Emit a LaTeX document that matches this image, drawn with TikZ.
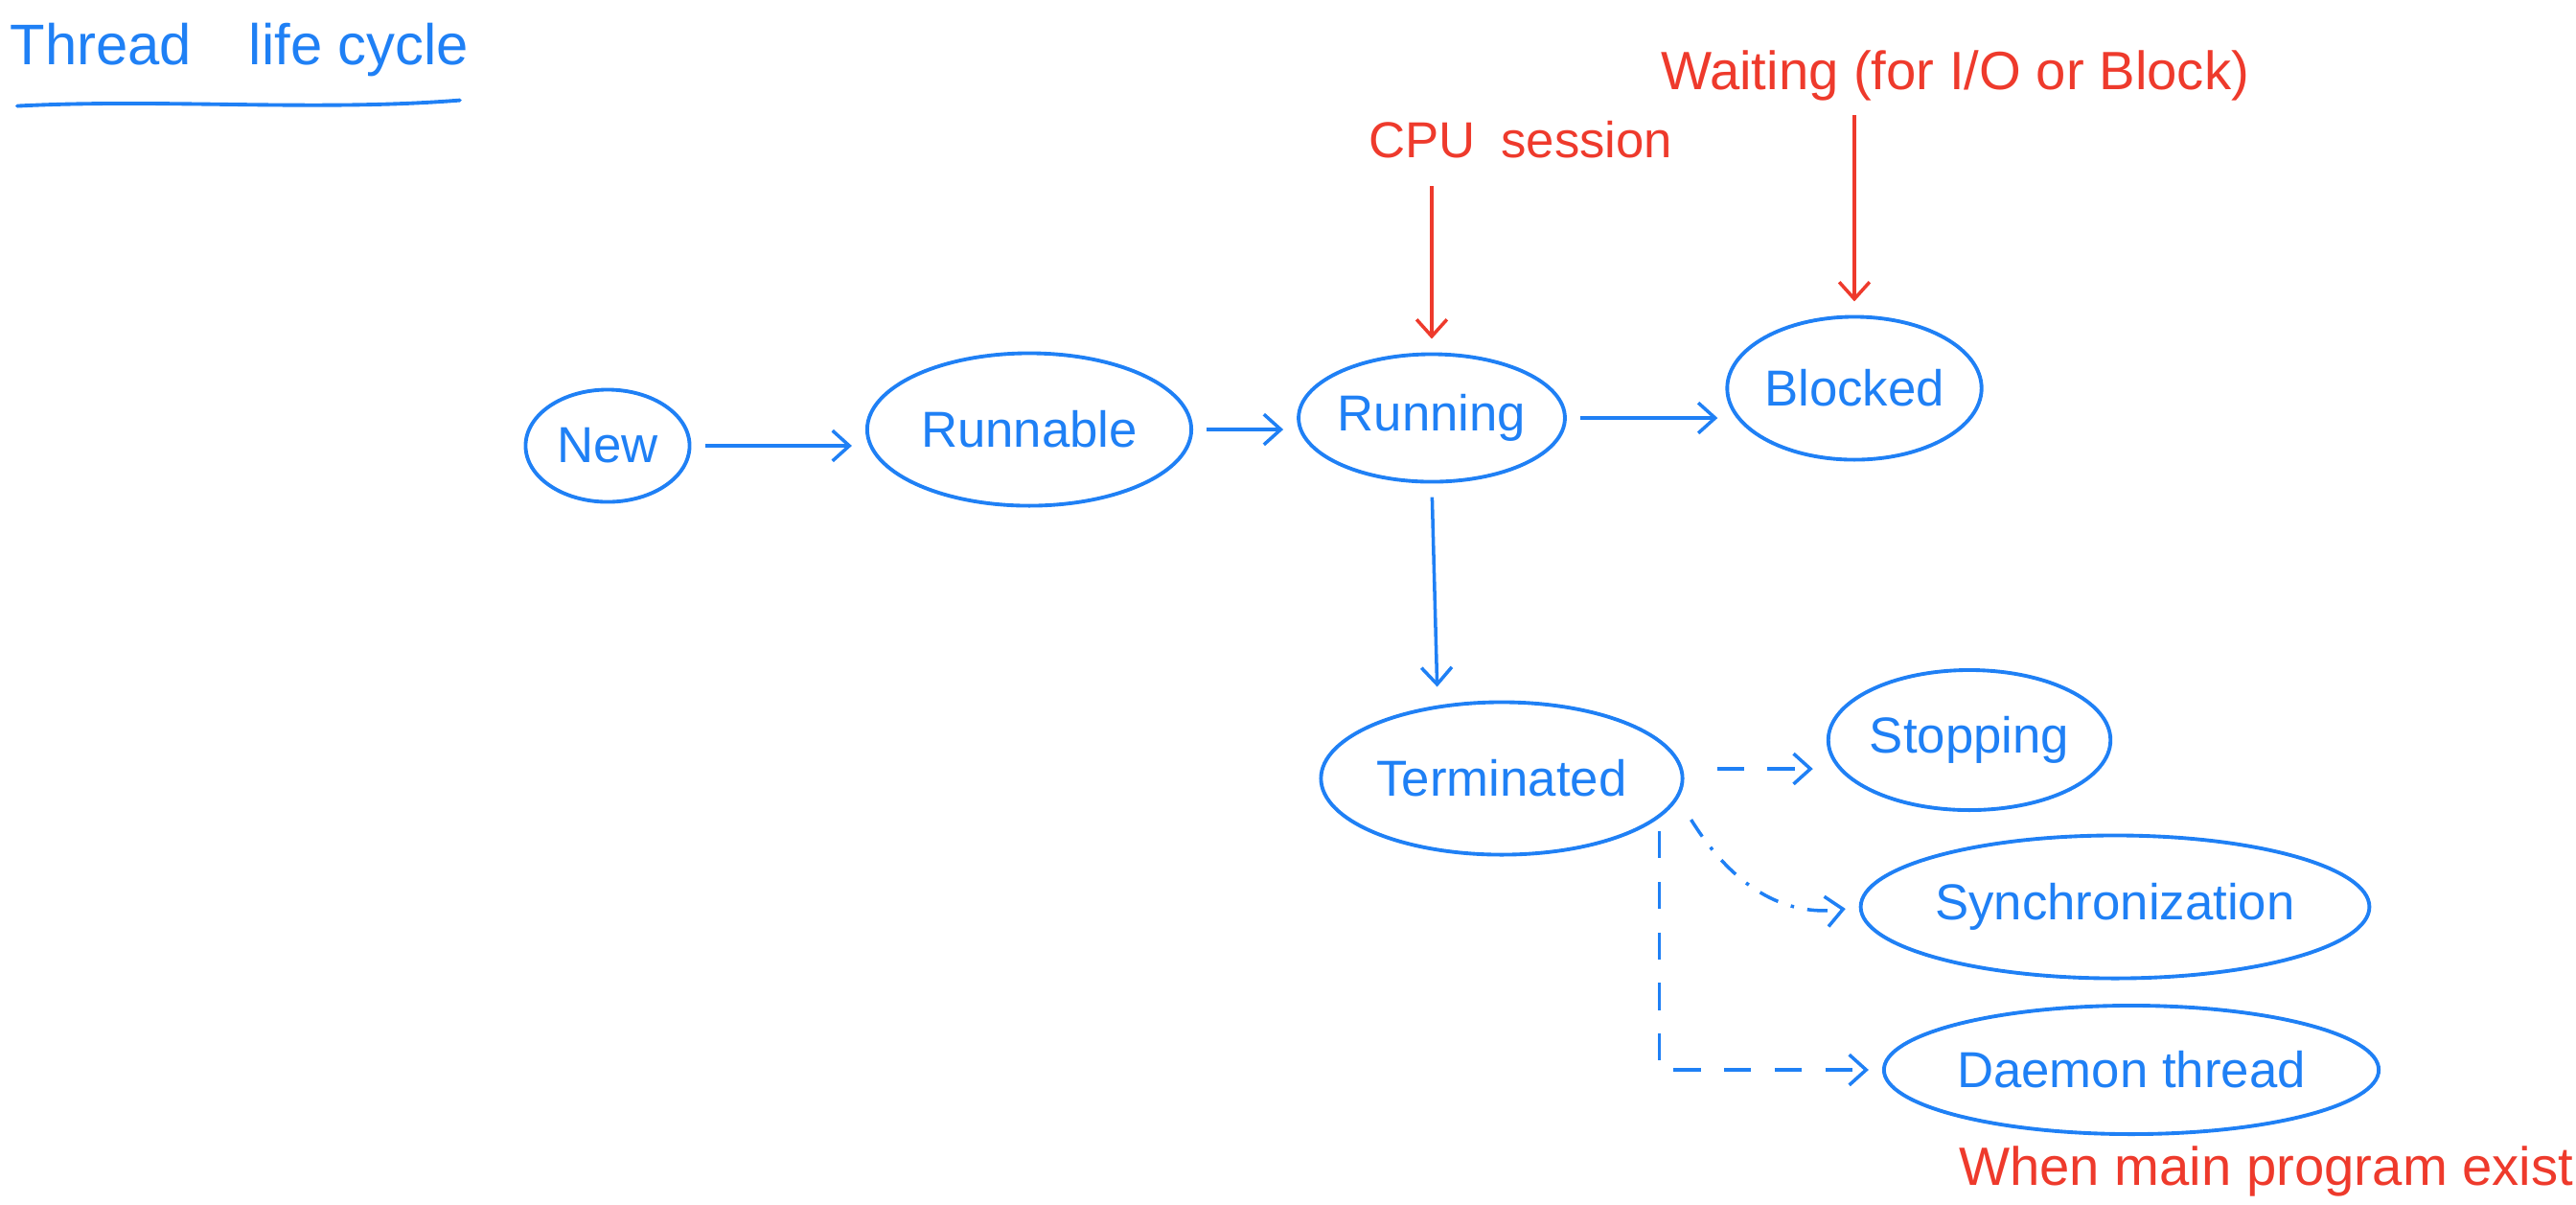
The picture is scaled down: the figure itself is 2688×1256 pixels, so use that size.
\documentclass[tikz,border=0pt]{standalone}
\usepackage{fontspec}
\setmainfont{Liberation Sans}
\usetikzlibrary{shapes.geometric,arrows.meta,calc}
\definecolor{penblue}{HTML}{1F80F5}
\definecolor{penred}{HTML}{EE3A2C}
\tikzset{
  state/.style={ellipse, draw=penblue, line width=1.1pt, text=penblue, inner sep=0pt,
    font=\fontsize{15}{17}\selectfont},
  note/.style={text=penred, font=\fontsize{16}{18}\selectfont, inner sep=0pt},
  flow/.style={draw=penblue, line width=1pt, -{Straight Barb[length=5pt,width=9pt]}, shorten <=4pt, shorten >=4pt},
  redflow/.style={draw=penred, line width=1pt, -{Straight Barb[length=5pt,width=9pt]}, shorten >=4pt},
  dashflow/.style={flow, dash pattern=on 8pt off 7pt},
  dotflow/.style={flow, dash pattern=on 6pt off 4pt on 1pt off 4pt},
}
\begin{document}
\begin{tikzpicture}[x=0.01cm, y=-0.01cm]
\useasboundingbox (0,0) rectangle (2688,1256);

% title
\node[anchor=west, text=penblue, inner sep=0pt, font=\fontsize{17}{19}\selectfont] (title) at (10,52) {Thread\enspace\enspace life cycle};
\draw[penblue, line width=1.1pt, line cap=round]
  ($(title.south west)+(8,30)$) .. controls ($(title.south)+(-80,22)$) and ($(title.south)+(80,36)$) .. ($(title.south east)+(-10,24)$);

% states
\node[state, minimum width=1.71cm, minimum height=1.17cm] (new) at (634,465) {New};
\node[state, minimum width=3.38cm, minimum height=1.59cm] (runnable) at (1074,448) {Runnable};
\node[state, minimum width=2.28cm, minimum height=1.33cm] (running) at (1494,436) {Running};
\node[state, minimum width=2.35cm, minimum height=1.49cm] (blocked) at (1935,405) {Blocked};
\node[state, minimum width=3.77cm, minimum height=1.59cm] (term) at (1567,812) {Terminated};
\node[state, minimum width=2.25cm, minimum height=1.46cm] (stop) at (2055,772) {Stopping};
\node[state, minimum width=4.88cm, minimum height=1.49cm] (sync) at (2207,946) {Synchronization};
\node[state, minimum width=5.16cm, minimum height=1.34cm] (daemon) at (2224,1116) {Daemon thread};

% notes
\node[note, font=\fontsize{15}{17}\selectfont] (cpu) at (1587,146) {CPU\enspace session};
\node[note] (wait) at (2040,79) {Waiting (for I/O or Block)};
\node[note, anchor=east] (when) at (2686,1222) {When main program exist};

% connectors
\draw[flow] (new.east) -- (new.east -| runnable.west);
\draw[flow] (runnable.east) -- (runnable.east -| running.west);
\draw[flow] (running.east) -- ($(running.east -| blocked.west)+(6,0)$);
\draw[flow] (running.south) -- ($(running.south |- term.north)+(6,0)$);
\draw[redflow] ($(cpu.south -| running.north)+(0,28)$) -- (running.north);
\draw[redflow] ($(wait.south -| blocked.north)+(0,14)$) -- (blocked.north);
\draw[dashflow] ($(term.east)+(20,-10)$) -- ($(term.east -| stop.west)+(0,-10)$);
\draw[dotflow] ($(term.-10)+(14,0)$) .. controls ($(term.-10)+(70,90)$) and ($(sync.west)+(-70,10)$) .. (sync.west);
\draw[dashflow] (term.-14) |- (daemon.west);
\end{tikzpicture}
\end{document}
